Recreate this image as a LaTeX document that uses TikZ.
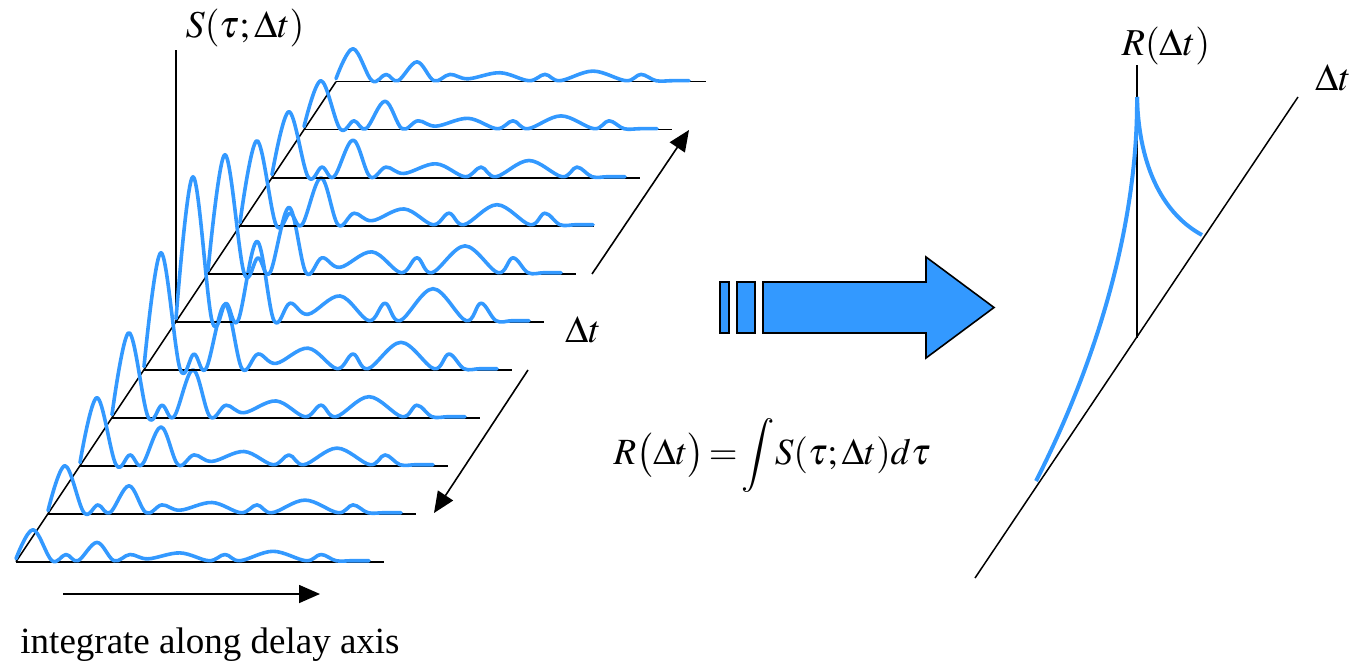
\documentclass[tikz,border=0pt]{standalone}
\usepackage{mathptmx}
\usepackage{fontspec}
\setmainfont{Liberation Serif}
\usetikzlibrary{arrows.meta}
\definecolor{waveblue}{HTML}{3399FF}

\begin{document}
\begin{tikzpicture}[x=1pt, y=-1pt, >={Triangle[length=21pt,width=18pt]}]
\useasboundingbox (0,0) rectangle (1357,666);
\tikzset{wave/.style={draw=waveblue, line width=3.6pt, line join=round, line cap=round},
  baseln/.style={line width=1.6pt},
  axisln/.style={line width=1.5pt},
  flow/.style={->, line width=1.6pt},
  blockarrow/.style={fill=waveblue, draw=black, line width=1.6pt, line join=miter},
  lbl/.style={font=\fontsize{38}{44}\selectfont, inner sep=0pt}}
% stack axes
\coordinate (front) at (16,561.7);
\coordinate (back) at (336,81.7);
\coordinate (sfoot) at (176,322);
\coordinate (stop) at (176,50);
\draw[axisln] (front) -- (back);
\draw[axisln] (sfoot) -- (stop);
% one spectrum per delay, front to back
\foreach \k/\A/\len in {0/32/368,1/48/368,2/68/368,3/85/368,4/117/368,5/145/368,6/119/368,7/85/354,8/66/368,9/49/368,10/33/370}{
  \pgfmathsetmacro{\pkB}{0.54*\A+2}
  \pgfmathsetmacro{\sm}{0.1*\A+4}
  \pgfmathsetmacro{\wa}{0.15*\A+4}
  \pgfmathsetmacro{\wb}{0.2*\A+4}
  \begin{scope}[shift={(16+32*\k,561.7-48*\k)}]
    \draw[baseln] (0,0) -- (\len,0);
    \draw[wave] plot[smooth, tension=0.6] coordinates {(0,-3) (17,-\A) (36,-1) (50,-\sm) (62,-1) (81,-\pkB) (98,-1) (114,-\sm) (132,-0.4*\sm) (164,-\wa) (193,-1) (209,-\sm) (224,-1) (257,-\wb) (290,-1) (305,-\sm) (320,-1) (336,-1) (353,-1)};
  \end{scope}
}
\node[lbl] (slab) at (245,28) {$S(\tau;\Delta t)$};
\node[lbl] (dtmid) at (583,330) {$\Delta t$};
% delay direction arrows
\coordinate (upA) at (592,274);
\coordinate (upB) at (689,130);
\coordinate (dnA) at (528,370);
\coordinate (dnB) at (434,513);
\coordinate (intA) at (63,594);
\coordinate (intB) at (320,594);
\draw[flow] (upA) -- (upB);
\draw[flow] (dnA) -- (dnB);
\draw[flow] (intA) -- (intB);
\node[font=\fontsize{37}{44}\selectfont, inner sep=0pt] (caption) at (210,645) {integrate along delay axis};
\node[lbl, font=\fontsize{37}{44}\selectfont] (formula) at (772,455) {$R\bigl(\Delta t\bigr)\!=\!\displaystyle\int\! S(\tau;\Delta t)d\tau$};
% block arrow
\draw[blockarrow] (720,282) rectangle (729,333);
\draw[blockarrow] (737,282) rectangle (755,333);
\draw[blockarrow] (763,282) -- (926,282) -- (926,257) -- (994,307.5) -- (926,358) -- (926,333) -- (763,333) -- cycle;
% correlation plot
\coordinate (dA) at (975,578);
\coordinate (dB) at (1298,97);
\coordinate (rfoot) at (1137,338);
\coordinate (rtop) at (1137,65);
\coordinate (rpeak) at (1137,97);
\draw[axisln] (dA) -- (dB);
\draw[axisln] (rfoot) -- (rtop);
\draw[wave, line width=4pt, line cap=butt] (rpeak) .. controls (1138,235) and (1090,375) .. (1036,481);
\draw[wave, line width=4pt, line cap=butt] (rpeak) .. controls (1139,170) and (1165,215) .. (1202,235);
\node[lbl] (rlab) at (1166,46) {$R(\Delta t)$};
\node[lbl] (dtright) at (1333,78) {$\Delta t$};
\end{tikzpicture}
\end{document}
